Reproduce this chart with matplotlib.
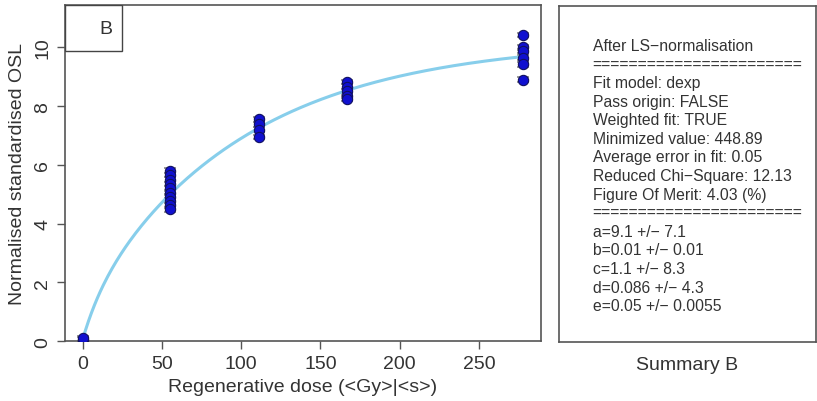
import numpy as np
import matplotlib
matplotlib.use('Agg')
import matplotlib.pyplot as plt
from matplotlib.patches import Rectangle

plt.rcParams['font.family'] = ['Liberation Sans', 'DejaVu Sans']

# 再生剂量 (Gy) 和归一化 OSL
dose_0 = [0, 0]
osl_0 = [0.05, 0.10]
dose_55 = [55] * 10
osl_55 = [5.80, 5.65, 5.50, 5.35, 5.20, 5.05, 4.92, 4.78, 4.62, 4.48]
dose_111 = [111] * 4
osl_111 = [7.55, 7.38, 7.20, 6.95]
dose_167 = [167] * 5
osl_167 = [8.82, 8.66, 8.50, 8.36, 8.25]
dose_278 = [278] * 6
osl_278 = [10.42, 10.00, 9.88, 9.65, 9.42, 8.90]

# dexp 拟合参数
fit_a, fit_b, fit_c, fit_d, fit_e = 9.1, 0.01, 1.1, 0.086, 0.05

summary_lines = [
    "After LS\u2212normalisation",
    "=======================",
    "Fit model: dexp",
    "Pass origin: FALSE",
    "Weighted fit: TRUE",
    "Minimized value: 448.89",
    "Average error in fit: 0.05",
    "Reduced Chi\u2212Square: 12.13",
    "Figure Of Merit: 4.03 (%)",
    "=======================",
    "a=9.1 +/\u2212 7.1",
    "b=0.01 +/\u2212 0.01",
    "c=1.1 +/\u2212 8.3",
    "d=0.086 +/\u2212 4.3",
    "e=0.05 +/\u2212 0.0055",
]

x = np.array(dose_0 + dose_55 + dose_111 + dose_167 + dose_278, dtype=float)
y = np.array(osl_0 + osl_55 + osl_111 + osl_167 + osl_278)

fig = plt.figure(figsize=(8.17, 4.02), dpi=100)
ax = fig.add_axes([0.0796, 0.149, 0.5824, 0.836])
edge = '#555555'
txt = '#333333'

xx = np.linspace(0, max(x), 300)
yy = fit_a * (1 - np.exp(-xx * fit_b)) + fit_c * (1 - np.exp(-xx * fit_d)) + fit_e
ax.plot(xx, yy, color='#87CEEB', lw=2.2, zorder=3)

ax.errorbar(x, y, yerr=0.08, fmt='none', ecolor='#888888', elinewidth=1.0,
            capsize=4.5, capthick=1.2, zorder=2)
ax.scatter(x, y, s=55, marker='o', color='#1010d0', edgecolors='#101060',
           linewidths=0.8, zorder=4)

ax.set_xlim(-11.1, 289.1)
ax.set_ylim(0, 11.44)
ax.set_xticks([0, 50, 100, 150, 200, 250])
ax.set_yticks([0, 2, 4, 6, 8, 10])
for lab in ax.get_yticklabels():
    lab.set_rotation(90)
    lab.set_va('center')
ax.tick_params(axis='both', labelsize=14, colors=txt,
               length=6, width=1, direction='out', color=edge, pad=4)
ax.tick_params(axis='y', pad=4)
for s in ax.spines.values():
    s.set_color(edge)
    s.set_linewidth(1.2)
ax.set_xlabel('Regenerative dose (<Gy>|<s>)', fontsize=14, color=txt,
              labelpad=4)
ax.set_ylabel('Normalised standardised OSL', fontsize=14, color=txt,
              labelpad=6)

# 左上角 "B" 标签框
ax.add_patch(Rectangle((0, 0.863), 0.12, 0.137, transform=ax.transAxes,
                       facecolor='white', edgecolor='#444444', lw=1.0,
                       zorder=5))
ax.text(0.086, 0.929, 'B', transform=ax.transAxes, fontsize=14,
        color=txt, ha='center', va='center', zorder=6)

# 右侧汇总框
ax2 = fig.add_axes([0.684, 0.147, 0.3145, 0.836])
ax2.set_xticks([])
ax2.set_yticks([])
for s in ax2.spines.values():
    s.set_color(edge)
    s.set_linewidth(1.2)
for i, line in enumerate(summary_lines):
    ax2.text(0.132, 0.882 - i * 0.0553, line, transform=ax2.transAxes,
             fontsize=11.3, color=txt, ha='left', va='center')
ax2.set_xlabel('Summary B', fontsize=14, color=txt, labelpad=10)

fig.savefig('out.png', dpi=100)
